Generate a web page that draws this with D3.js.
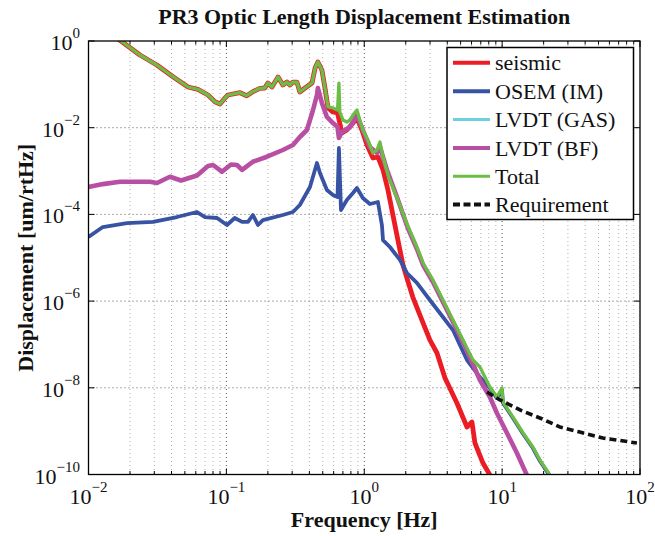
<!DOCTYPE html>
<html><head><meta charset="utf-8">
<script src="https://cdn.jsdelivr.net/npm/d3@7"></script>
<style>body{margin:0;background:#fff}svg{display:block}</style>
</head><body>
<svg id="c" width="655" height="536"></svg>
<script>
// ---- data ----
const totalF = [0.01,0.0172,0.0236,0.0313,0.041,0.0527,0.0622,0.0736,0.0826,0.0899,0.0977,0.1028,0.1256,0.1403,0.1556,0.175,0.19,0.2,0.214,0.237,0.257,0.275,0.289,0.304,0.325,0.341,0.372,0.418,0.44,0.461,0.493,0.519,0.546,0.593,0.64,0.655,0.665,0.70,0.748,0.787,0.828,0.885,0.929,0.977,1.064,1.156,1.236,1.30,1.368,1.51,1.75,2.07,2.41,2.67,3.15,3.72,4.40,5.20,6.14,6.90,8.15,9.16,9.98,10.14,11.97,14.2,16.7,18.8,22.2,25];
const totalV = [3.2,1.0,0.475,0.279,0.150,0.0869,0.0769,0.0568,0.0398,0.0352,0.0484,0.0568,0.0641,0.0547,0.0676,0.0811,0.0824,0.1074,0.0869,0.148,0.0966,0.113,0.0966,0.113,0.113,0.0667,0.0824,0.1074,0.238,0.328,0.214,0.0824,0.0301,0.0285,0.0256,0.107,0.0230,0.0151,0.0135,0.0151,0.0196,0.0256,0.0151,0.00885,0.0052,0.0026,0.00306,0.00468,0.00211,6.9e-4,2.15e-4,5.4e-5,1.77e-5,7.57e-6,3.07e-6,1.06e-6,3.66e-7,1.27e-7,4.38e-8,3.02e-8,1.04e-8,6.14e-9,9.9e-9,4.70e-9,2.12e-9,9.06e-10,4.31e-10,2.16e-10,9.8e-11,5e-11];

const seismicF = [0.01,0.0172,0.0236,0.0313,0.041,0.0527,0.0622,0.0736,0.0826,0.0899,0.0977,0.1028,0.1256,0.1403,0.1556,0.175,0.19,0.2,0.214,0.237,0.257,0.275,0.289,0.304,0.325,0.341,0.372,0.418,0.44,0.461,0.493,0.519,0.546,0.593,0.64,0.689,0.748,0.828,0.885,0.962,1.047,1.156,1.256,1.368,1.486,1.614,1.754,1.91,2.07,2.25,2.62,2.99,3.37,3.85,4.70,5.56,6.04,6.35,7.26,8.15,9.0];
const seismicV = [3.2,1.0,0.475,0.279,0.150,0.0869,0.0769,0.0568,0.0398,0.0352,0.0484,0.0568,0.0641,0.0547,0.0676,0.0811,0.0824,0.1074,0.0869,0.148,0.0966,0.113,0.0966,0.113,0.113,0.0667,0.0824,0.1074,0.238,0.328,0.214,0.0824,0.0285,0.0230,0.0218,0.00755,0.00885,0.0128,0.0167,0.00885,0.00399,0.0020,0.00211,0.00106,3.66e-4,9.7e-5,2.56e-5,6.8e-6,2.91e-6,1.24e-6,3.66e-7,1.27e-7,6.35e-8,1.68e-8,4.46e-9,1.25e-9,1.63e-9,5.33e-10,1.84e-10,9.8e-11,5e-11];

const osemF = [0.01,0.0127,0.019,0.0294,0.0438,0.0612,0.070,0.0855,0.101,0.115,0.130,0.1435,0.1556,0.1694,0.184,0.257,0.304,0.341,0.404,0.454,0.477,0.536,0.593,0.640,0.655,0.678,0.748,0.828,0.885,0.977,1.099,1.256,1.343,1.368,1.535,1.815,2.04,2.41,2.99,3.72,4.40,4.94,5.56,6.90,8.15,9.16,9.98,10.14,11.97,14.2,16.7,18.8,22.2,25];
const osemV = [3.01e-5,5.12e-5,6.3e-5,6.7e-5,8.7e-5,1.135e-4,8.7e-5,8.26e-5,5.7e-5,8.26e-5,6.7e-5,6.7e-5,9.7e-5,5.7e-5,7.4e-5,9.7e-5,1.135e-4,1.65e-4,4.28e-4,1.53e-3,9.0e-4,3.66e-4,2.8e-4,2.52e-4,3.4e-3,1.26e-4,2.15e-4,3.12e-4,4.07e-4,2.39e-4,1.74e-4,1.93e-4,5.7e-5,2.56e-5,1.77e-5,8.9e-6,4.45e-6,2.62e-6,1.06e-6,4.30e-7,2.15e-7,9.7e-8,4.38e-8,1.77e-8,9.9e-9,5.8e-9,8.9e-9,4.46e-9,2.01e-9,8.6e-10,4.08e-10,2.05e-10,9.3e-11,5e-11];

const bfF = [0.01,0.0127,0.0169,0.0225,0.0279,0.0314,0.039,0.0469,0.0612,0.0736,0.080,0.0929,0.108,0.1194,0.130,0.1556,0.197,0.257,0.304,0.341,0.384,0.425,0.454,0.461,0.493,0.536,0.593,0.640,0.655,0.689,0.787,0.885,0.977,1.099,1.236,1.300,1.462,1.726,2.07,2.41,2.67,3.15,3.72,4.40,5.20,6.14,6.90,8.15,9.16,10.84,12.8,15.1,16.5];
const bfV = [4.28e-4,5.0e-4,5.67e-4,5.67e-4,5.67e-4,5.3e-4,7.4e-4,6.05e-4,7.9e-4,1.31e-3,1.38e-3,9.66e-4,1.42e-3,1.38e-3,1.06e-3,1.64e-3,2.14e-3,3.06e-3,3.99e-3,6.1e-3,8.85e-3,0.0256,0.0568,0.0824,0.0372,0.0177,0.0128,0.0104,5.8e-3,7.96e-3,0.0104,0.0196,8.85e-3,3.59e-3,2.61e-3,3.59e-3,1.06e-3,2.52e-4,4.85e-5,1.59e-5,6.8e-6,2.76e-6,9.5e-7,3.3e-7,1.14e-7,3.54e-8,1.51e-8,6.14e-9,2.62e-9,9.06e-10,3.13e-10,9.8e-11,6e-11];

const reqF = [7.77,9.64,13.5,18.8,26.2,36.6,53.8,95];
const reqV = [8.0e-9,5.25e-9,3.08e-9,2.01e-9,1.25e-9,9.55e-10,6.95e-10,5.33e-10];

const legendNames = ["seismic","OSEM (IM)","LVDT (GAS)","LVDT (BF)","Total","Requirement"];
const legendColors = ["#ec1c24","#3953a4","#6dcfe0","#b94fa3","#6cbd45","#111111"];
const xTickExps = [-2,-1,0,1,2];
const yTickExps = [0,-2,-4,-6,-8,-10];
const titleText = "PR3 Optic Length Displacement Estimation";
const xLabel = "Frequency [Hz]";
const yLabel = "Displacement [um/rtHz]";

// ---- layout ----
const L = 88.5, R = 640, T = 41, B = 474.5;
const serif = "'Liberation Serif','Times New Roman',serif";
const svg = d3.select("#c");
svg.append("rect").attr("width",655).attr("height",536).attr("fill","#fff");

const x = d3.scaleLog().domain([0.01,100]).range([L,R]);
const y = d3.scaleLog().domain([1e-10,1]).range([B,T]);

// grid
const xt = x.ticks();
const isMajor = v => Math.abs(Math.log10(v) - Math.round(Math.log10(v))) < 1e-6;
const grid = svg.append("g");
grid.selectAll("line.vx").data(xt.filter(v=>v>0.01 && v<100)).enter().append("line")
  .attr("x1",d=>x(d)).attr("x2",d=>x(d)).attr("y1",T).attr("y2",B)
  .attr("stroke",d=>isMajor(d)?"#444":"#aaa").attr("stroke-width",0.9)
  .attr("stroke-dasharray","1,3");
grid.selectAll("line.hy").data(yTickExps.map(e=>Math.pow(10,e)).filter(v=>v<1&&v>1e-10)).enter().append("line")
  .attr("x1",L).attr("x2",R).attr("y1",d=>y(d)).attr("y2",d=>y(d))
  .attr("stroke","#444").attr("stroke-width",0.9).attr("stroke-dasharray","1,3");

// axes (ticks inside)
const yMajor = yTickExps.map(e=>Math.pow(10,e));
svg.append("g").attr("transform",`translate(0,${B})`)
  .call(d3.axisBottom(x).tickValues(xt).tickSize(0).tickFormat(""))
  .call(g=>{g.select(".domain").remove();});
const tk = svg.append("g").attr("stroke","#000").attr("stroke-width",1);
xt.forEach(v=>{
  const len = isMajor(v)?6:3.5;
  tk.append("line").attr("x1",x(v)).attr("x2",x(v)).attr("y1",B).attr("y2",B-len);
  tk.append("line").attr("x1",x(v)).attr("x2",x(v)).attr("y1",T).attr("y2",T+len);
});
yMajor.forEach(v=>{
  tk.append("line").attr("x1",L).attr("x2",L+6).attr("y1",y(v)).attr("y2",y(v));
  tk.append("line").attr("x1",R).attr("x2",R-6).attr("y1",y(v)).attr("y2",y(v));
});

// curves
svg.append("clipPath").attr("id","pc").append("rect")
  .attr("x",L).attr("y",T).attr("width",R-L).attr("height",B-T);
const lineGen = d3.line().x(d=>x(d[0])).y(d=>y(d[1]));
const plotG = svg.append("g").attr("clip-path","url(#pc)");
function draw(F,V,color,w,dash){
  const pts = F.map((f,i)=>[f,V[i]]);
  const p = plotG.append("path").attr("d",lineGen(pts)).attr("fill","none")
    .attr("stroke",color).attr("stroke-width",w).attr("stroke-linejoin","round").attr("stroke-linecap","butt");
  if(dash) p.attr("stroke-dasharray",dash);
}
draw(seismicF,seismicV,legendColors[0],4.8);
draw(osemF,osemV,legendColors[1],3.8);
draw(bfF,bfV,legendColors[3],4.6);
draw(totalF,totalV,legendColors[4],3.3);
draw(reqF,reqV,legendColors[5],3.6,"7,4");

// frame
svg.append("rect").attr("x",L).attr("y",T).attr("width",R-L).attr("height",B-T)
  .attr("fill","none").attr("stroke","#000").attr("stroke-width",1.3);

// tick labels
const xl = svg.append("g").attr("font-family",serif).attr("fill","#111");
xTickExps.forEach(e=>{
  const t = xl.append("text").attr("x",x(Math.pow(10,e))).attr("y",504).attr("text-anchor","middle").attr("font-size",22);
  t.append("tspan").text("10");
  t.append("tspan").attr("dy",-12).attr("font-size",15).text(e<0?"\u2212"+(-e):String(e));
});
yTickExps.forEach(e=>{
  const t = xl.append("text").attr("x",80).attr("y",y(Math.pow(10,e))+9).attr("text-anchor","end").attr("font-size",22);
  t.append("tspan").text("10");
  t.append("tspan").attr("dy",-12).attr("font-size",15).text(e<0?"\u2212"+(-e):String(e));
});

// title & labels
svg.append("text").attr("x",(L+R)/2).attr("y",24).attr("text-anchor","middle")
  .attr("font-family",serif).attr("font-weight","bold").attr("font-size",22).attr("fill","#111").text(titleText);
svg.append("text").attr("x",(L+R)/2).attr("y",527).attr("text-anchor","middle")
  .attr("font-family",serif).attr("font-weight","bold").attr("font-size",22).attr("fill","#111").text(xLabel);
svg.append("text").attr("transform",`translate(33,${(T+B)/2}) rotate(-90)`).attr("text-anchor","middle")
  .attr("font-family",serif).attr("font-weight","bold").attr("font-size",22).attr("fill","#111").text(yLabel);

// legend
const lg = svg.append("g");
lg.append("rect").attr("x",447).attr("y",47.5).attr("width",186.5).attr("height",172)
  .attr("fill","#fff").attr("stroke","#000").attr("stroke-width",1.5);
const rowY = [62.7,91.2,119.6,148,176.3,204.5];
legendNames.forEach((n,i)=>{
  const l = lg.append("line").attr("x1",453).attr("x2",490).attr("y1",rowY[i]).attr("y2",rowY[i])
    .attr("stroke",legendColors[i]).attr("stroke-width",i===2||i===4?3:4);
  if(i===5) l.attr("stroke-dasharray","7,3.5");
  lg.append("text").attr("x",495).attr("y",rowY[i]+7.5).attr("font-family",serif)
    .attr("font-size",22).attr("fill","#111").text(n);
});
</script>
</body></html>
